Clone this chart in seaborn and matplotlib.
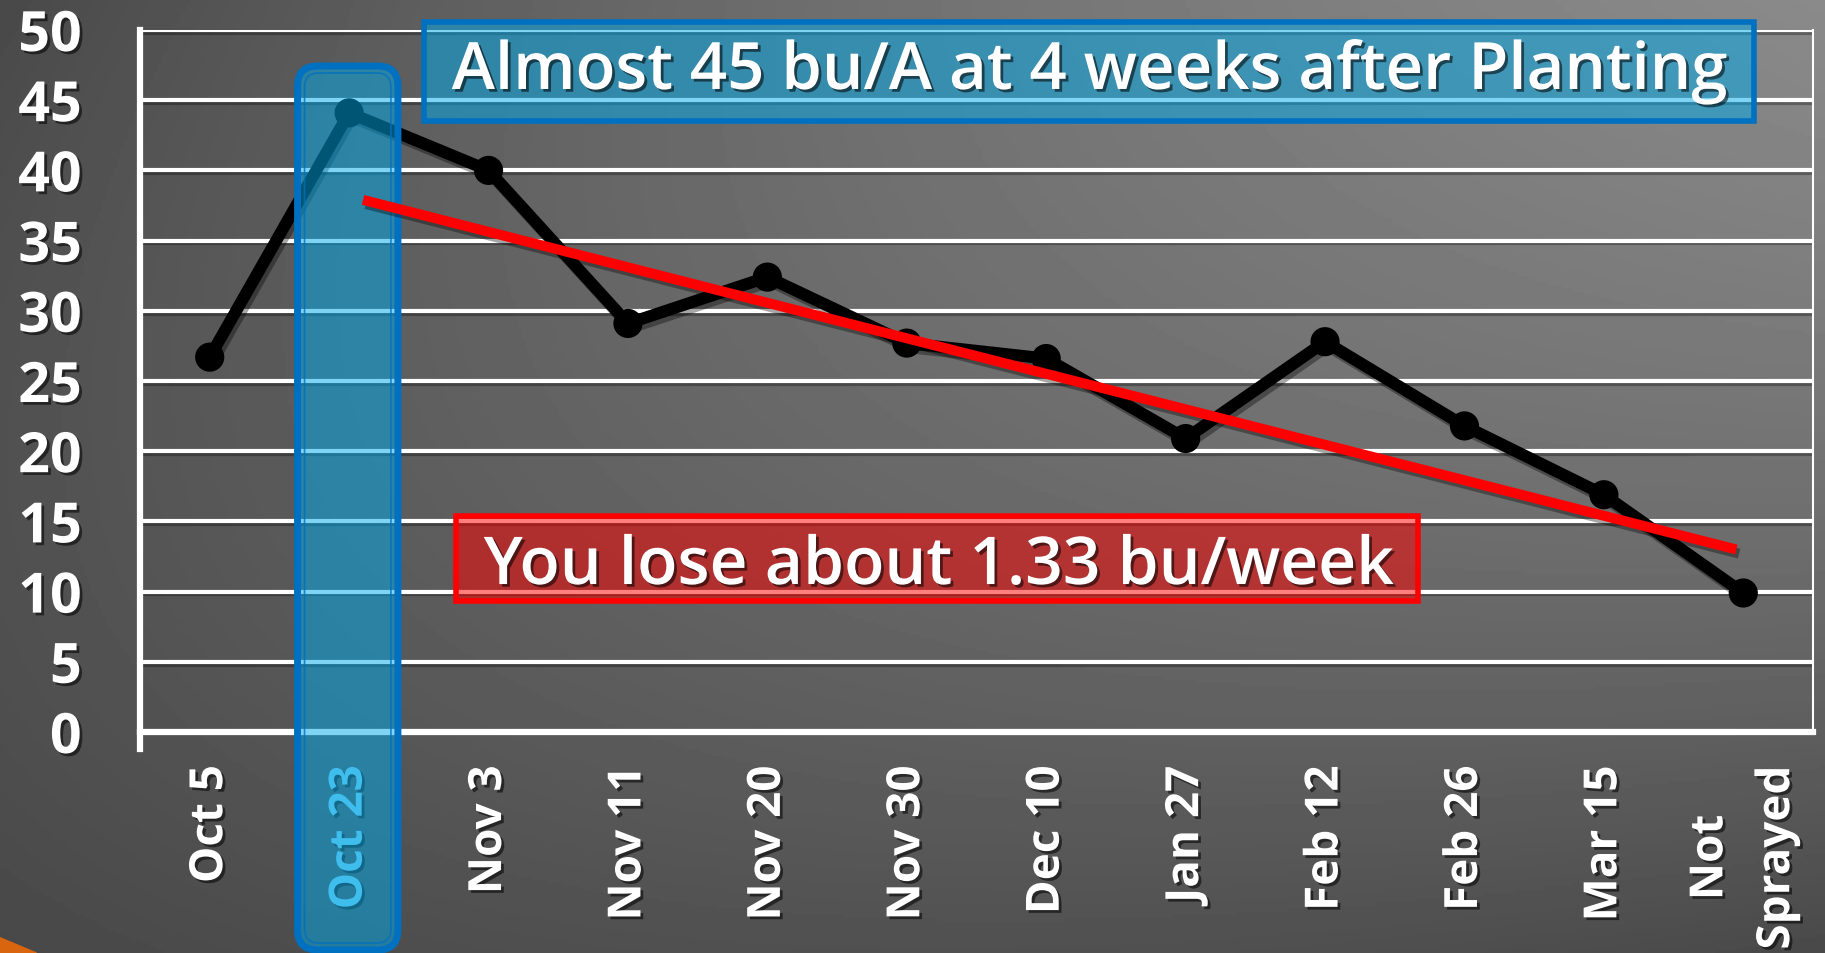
import numpy as np
import pandas as pd
import matplotlib.pyplot as plt
import matplotlib.patheffects as pe
from matplotlib.patches import FancyBboxPatch, Rectangle, Polygon
from matplotlib.transforms import IdentityTransform
import seaborn as sns

# data
dates = ['Oct 5', 'Oct 23', 'Nov 3', 'Nov 11', 'Nov 20', 'Nov 30', 'Dec 10',
         'Jan 27', 'Feb 12', 'Feb 26', 'Mar 15', 'Not\nSprayed']
yields = [26.7, 44.1, 40.0, 29.1, 32.4, 27.7, 26.6, 20.9, 27.8, 21.8, 16.9, 9.9]
trend_pos = [1.1, 10.95]
trend_vals = [37.9, 13.0]
y_ticks = [0, 5, 10, 15, 20, 25, 30, 35, 40, 45, 50]
best_date = 'Oct 23'
note_top = 'Almost 45 bu/A at 4 weeks after Planting'
note_loss = 'You lose about 1.33 bu/week'

df = pd.DataFrame({'date': dates, 'yield': yields})

sns.set_style('white')
plt.rcParams['font.family'] = ['Open Sans', 'DejaVu Sans']

W, H = 1825, 954
fig = plt.figure(figsize=(W / 100, H / 100), dpi=100)

# gray slide background, lighter towards the top right
bg = fig.add_axes([0, 0, 1, 1], zorder=0)
s, t = np.meshgrid(np.linspace(-1, 1, 500), np.linspace(-1, 1, 300))
u = (s + t) / 2
v = (t - s) / 2
shade = 105 + 33 * u - 32 * v ** 2
bg.imshow(shade, cmap='gray', vmin=0, vmax=255, origin='lower',
          extent=[0, 1, 0, 1], aspect='auto')
bg.add_patch(Polygon([[0, 0], [0.02, 0], [0, 0.016]], closed=True,
                     color='#d9650f', transform=bg.transAxes))
bg.set_xlim(0, 1)
bg.set_ylim(0, 1)
bg.axis('off')

ax = fig.add_axes([140 / W, 1 - 733 / H, (1813 - 140) / W, (733 - 31) / H], zorder=1)
ax.patch.set_alpha(0)

shadow = [pe.withSimplePatchShadow(offset=(2, -2), shadow_rgbFace='black', alpha=0.55)]
line_shadow = [pe.SimpleLineShadow(offset=(2, -3), shadow_color='black', alpha=0.35), pe.Normal()]

sns.lineplot(data=df, x='date', y='yield', sort=False, ax=ax, color='black',
             lw=8.6, marker='o', markersize=21, markeredgewidth=0, zorder=4)
for ln in ax.lines:
    ln.set_path_effects(line_shadow)

ax.plot(trend_pos, trend_vals, color='#ff0000', lw=7.2, zorder=6,
        solid_capstyle='butt', path_effects=line_shadow)

ax.set_xlim(-0.5, len(dates) - 0.5)
ax.set_ylim(0, 50)
ax.set_xlabel('')
ax.set_ylabel('')

# y axis
ax.set_yticks(y_ticks)
ax.set_yticklabels([str(v) for v in y_ticks])
ax.tick_params(axis='y', length=0, pad=42, labelsize=40, labelcolor='white')
ax.set_axisbelow(True)
ax.grid(axis='y', color='white', lw=3)
ax.grid(axis='x', visible=False)
for g in ax.get_ygridlines():
    g.set_path_effects([pe.SimpleLineShadow(offset=(1, -2), alpha=0.3), pe.Normal()])

# x axis: labels at the centres, ticks at the boundaries
ax.set_xticks(range(len(dates)))
ax.set_xticklabels(dates, rotation=90, ha='center', va='top')
ax.set_xticks(np.arange(-0.5, len(dates)), minor=True)
ax.tick_params(axis='x', which='major', length=0, pad=24, labelsize=33, labelcolor='white')
ax.tick_params(axis='x', which='minor', direction='inout', length=24, width=3.6, color='white')

for lab in ax.get_xticklabels() + ax.get_yticklabels():
    lab.set_fontweight('bold')
    lab.set_path_effects(shadow)
for lab in ax.get_xticklabels():
    lab.set_multialignment('center')
    lab.set_linespacing(1.55)
    if lab.get_text() == best_date:
        lab.set_color('#7fd3f3')

for side in ['left', 'bottom']:
    ax.spines[side].set_color('white')
    ax.spines[side].set_linewidth(4.5)
ax.spines['right'].set_color('white')
ax.spines['right'].set_linewidth(1.5)
ax.spines['top'].set_visible(False)
ax.spines['left'].set_bounds(-1.2, 50)

# highlight column for the best date, drawn in pixels over the axis
fig.canvas.draw()
bi = dates.index(best_date)
x0 = ax.transData.transform((bi - 0.37, 0))[0]
x1 = ax.transData.transform((bi + 0.35, 0))[0]
top_px = H - 67
bottom_px = 3
ax.add_patch(FancyBboxPatch((x0, bottom_px), x1 - x0, top_px - bottom_px,
                            boxstyle='round,pad=0,rounding_size=20',
                            transform=IdentityTransform(), clip_on=False,
                            fc=(0.0, 0.67, 0.92, 0.5), ec='#0070c0', lw=5, zorder=5))
ax.add_patch(FancyBboxPatch((x0 + 7, bottom_px + 7), x1 - x0 - 14, top_px - bottom_px - 14,
                            boxstyle='round,pad=0,rounding_size=14',
                            transform=IdentityTransform(), clip_on=False,
                            fc='none', ec='#0070c0', lw=1.2, alpha=0.8, zorder=5))

# text boxes
ax.add_patch(Rectangle((1.54, 43.5), 11.08 - 1.54, 50.6 - 43.5, clip_on=False,
                       fc=(0.0, 0.67, 0.92, 0.5), ec='#0070c0', lw=4, zorder=7))
ax.text(6.31, 45.8, note_top, ha='center', va='baseline', color='white',
        fontsize=47, fontweight='semibold', zorder=8, path_effects=shadow)

ax.add_patch(Rectangle((1.77, 9.33), 8.67 - 1.77, 15.4 - 9.33, clip_on=False,
                       fc=(1.0, 0.0, 0.0, 0.5), ec='#ff0000', lw=4, zorder=7))
ax.text(5.23, 10.54, note_loss, ha='center', va='baseline', color='white',
        fontsize=47.5, fontweight='semibold', zorder=8, path_effects=shadow)

fig.savefig('out.png', dpi=100)
